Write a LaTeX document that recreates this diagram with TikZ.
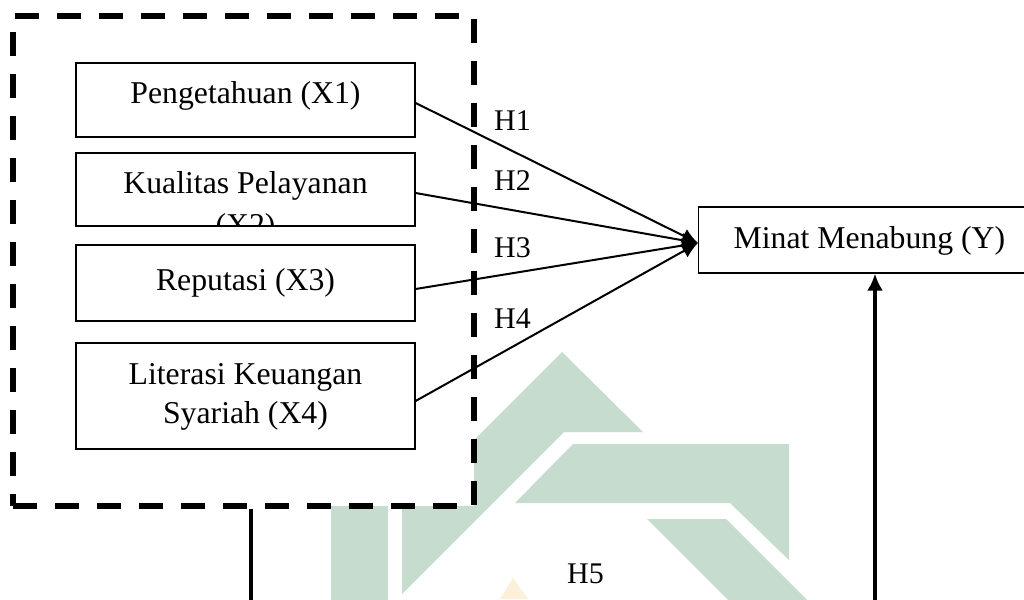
\documentclass[tikz,border=0pt]{standalone}
\usepackage{fontspec}
\setmainfont{Liberation Serif}
\usetikzlibrary{arrows.meta}
\definecolor{wmgreen}{RGB}{197,220,207}
\definecolor{wmyellow}{RGB}{252,240,218}
\begin{document}
\begin{tikzpicture}[x=1pt,y=-1pt,
  varbox/.style={draw=black, line width=1.2pt, fill=white, inner sep=0pt,
    minimum width=339pt, font=\fontsize{31.75pt}{39pt}\selectfont},
  grpbox/.style={draw=black, line width=5.3pt, dash pattern=on 24pt off 18pt,
    fill=white, inner sep=0pt},
  conn/.style={draw=black, line width=2pt, -{Latex[length=16pt,width=15pt]}},
  vline/.style={draw=black, line width=4.5pt},
  hlab/.style={inner sep=0pt, font=\fontsize{30pt}{36pt}\selectfont},
  wm/.style={fill=wmgreen, draw=none}]
\useasboundingbox (0,0) rectangle (1024,599);
\clip (0,0) rectangle (1024,599);
\fill[white] (0,0) rectangle (1024,599);
% watermark
\path[wm] (562,352) -- (643,432) -- (564,432) -- (402,594) -- (402,505) -- (409,505) -- cycle;
\path[wm] (331,480) rectangle (388,610);
\path[wm] (573,444) -- (789,444) -- (789,560) -- (730,503) -- (515,503) -- cycle;
\path[wm] (647,519) -- (726,519) -- (816,609) -- (737,609) -- cycle;
\fill[wmyellow] (500,599) -- (513,578) -- (528,599) -- cycle;
% group frame
\node[grpbox, minimum width=461pt, minimum height=490pt] (grp) at (243.5,261) {};
% variable boxes
\node[varbox, text height=41pt, text depth=33pt] (x1) at (245.5,100) {Pengetahuan (X1)};
\begin{scope}
  \clip (72,150) rectangle (419,226.7);
  \node[varbox, text height=40pt, text depth=33pt] (x2) at (245.5,189.5)
    {\begin{tabular}[t]{@{}c@{}}Kualitas Pelayanan\\[3pt](X2)\end{tabular}};
\end{scope}
\node[varbox, text height=45pt, text depth=31pt] (x3) at (245.5,283) {Reputasi (X3)};
\node[varbox, text height=41pt, text depth=65pt] (x4) at (245.5,396)
  {\begin{tabular}[t]{@{}c@{}}Literasi Keuangan\\Syariah (X4)\end{tabular}};
\node[varbox, anchor=west, minimum width=0pt, inner xsep=35pt,
  text height=41pt, text depth=25pt] (my) at (698,240) {Minat Menabung (Y)};
% connectors
\coordinate (tip) at ([yshift=-3pt]my.west);
\draw[conn] ([yshift=-3pt]x1.east) -- (tip);
\draw[conn] ([yshift=-3.5pt]x2.east) -- (tip);
\draw[conn] ([yshift=-6pt]x3.east) -- (tip);
\draw[conn] ([yshift=-5pt]x4.east) -- (tip);
% labels
\node[hlab, anchor=base west] (h1) at (494,131) {H1};
\node[hlab, anchor=base west] (h2) at (494,190) {H2};
\node[hlab, anchor=base west] (h3) at (494,257) {H3};
\node[hlab, anchor=base west] (h4) at (494,328) {H4};
\node[hlab, anchor=base west] (h5) at (567,583) {H5};
% H5 path
\coordinate (lb) at (251,640);
\coordinate (rb) at (875,640);
\draw[vline] ([xshift=7.5pt]grp.south) -- (lb);
\draw[vline, -{Latex[length=17pt,width=16pt]}] (rb) -- ([xshift=177pt]my.south west);
\end{tikzpicture}
\end{document}
